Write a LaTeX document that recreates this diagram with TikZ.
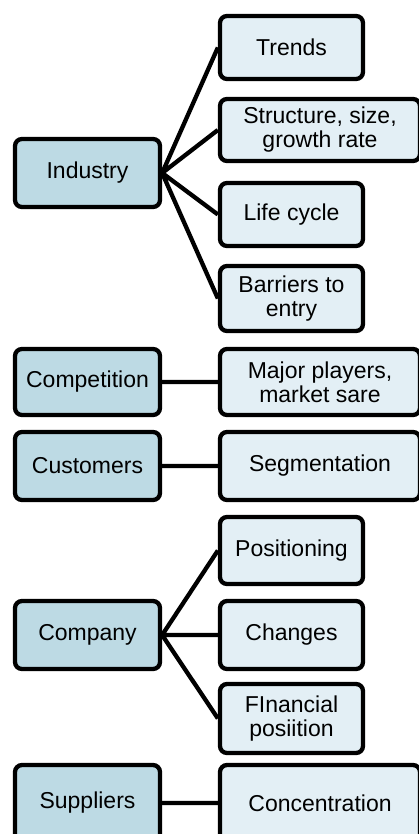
\documentclass[tikz,border=0pt]{standalone}
\usepackage{fontspec}
\setmainfont{Liberation Sans}
\definecolor{node_topic}{RGB}{189,218,228}
\definecolor{node_item}{RGB}{227,239,245}

\begin{document}
\begin{tikzpicture}[x=1pt,y=-1pt,line width=4.3pt]
    \tikzstyle{box}=[draw=black, rounded corners=7pt, inner sep=0pt, align=center, text=black, font=\fontsize{23}{24}\selectfont]
    \tikzstyle{topic}=[style=box, fill=node_topic, minimum width=145pt]
    \tikzstyle{item}=[style=box, fill=node_item, minimum width=143pt]
    \tikzstyle{itemwide}=[style=box, fill=node_item, minimum width=200pt]

    \useasboundingbox (0,0) rectangle (419,834);

    \node[topic, minimum height=68pt]    (industry)    at (87.5,173)  {Industry};
    \node[item, minimum height=63pt]     (trends)      at (291.5,47.5) {Trends};
    \node[itemwide, minimum height=62pt] (structure)   at (320,130)   {Structure, size,\\growth rate};
    \node[item, minimum height=63pt]     (lifecycle)   at (291.5,214.5) {Life cycle};
    \node[item, minimum height=65pt]     (barriers)    at (291.5,298.5) {Barriers to\\entry};

    \node[topic, minimum height=66pt]    (competition) at (87.5,382)  {Competition};
    \node[itemwide, minimum height=66pt] (players)     at (320,382)   {Major players,\\market sare};

    \node[topic, minimum height=68pt]    (customers)   at (87.5,466)  {Customers};
    \node[itemwide, minimum height=68pt] (segment)     at (320,466)   {Segmentation};

    \node[topic, minimum height=68pt]    (company)     at (87.5,635)  {Company};
    \node[item, minimum height=67pt]     (positioning) at (291.5,550.5) {Positioning};
    \node[item, minimum height=68pt]     (changes)     at (291.5,635)  {Changes};
    \node[item, minimum height=69pt]     (financial)   at (291.5,718.5) {FInancial\\posiition};

    \node[topic, minimum height=76pt]    (suppliers)   at (87.5,803)  {Suppliers};
    \node[itemwide, minimum height=76pt] (concentr)    at (320,803)   {Concentration};

    \path[draw]
     (industry.east) -- (trends.west)
     (industry.east) -- (structure.west)
     (industry.east) -- (lifecycle.west)
     (industry.east) -- (barriers.west)
     (competition) -- (players)
     (customers) -- (segment)
     (company.east) -- (positioning.west)
     (company.east) -- (changes.west)
     (company.east) -- (financial.west)
     (suppliers) -- (concentr);
\end{tikzpicture}
\end{document}
